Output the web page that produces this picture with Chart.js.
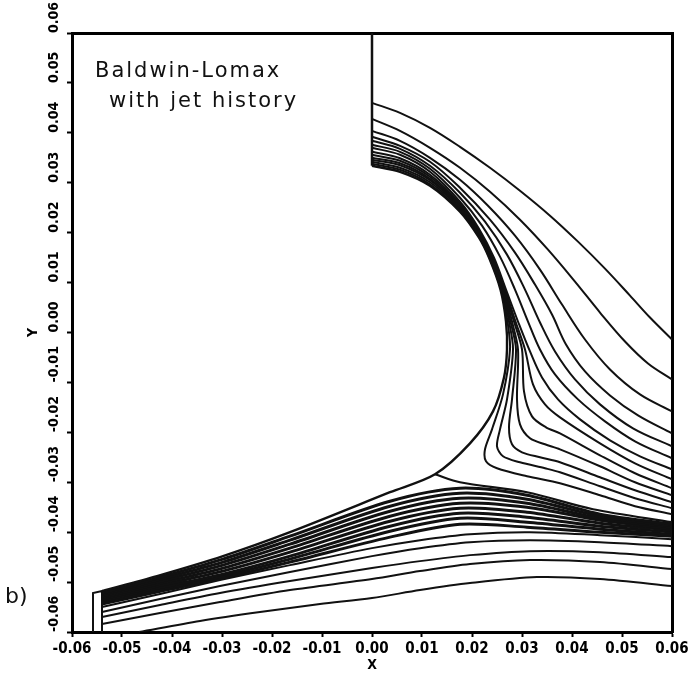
<!DOCTYPE html>
<html><head><meta charset="utf-8">
<script src="https://cdn.jsdelivr.net/npm/chart.js@4.4.1/dist/chart.umd.min.js"></script>
<style>html,body{margin:0;padding:0;background:#fff}canvas{display:block}</style>
</head><body>
<canvas id="c" width="695" height="679"></canvas>
<script>
// ---------- tick values / labels ----------
const xTickValues = [-0.06,-0.05,-0.04,-0.03,-0.02,-0.01,0,0.01,0.02,0.03,0.04,0.05,0.06];
const xTickLabels = ['-0.06','-0.05','-0.04','-0.03','-0.02','-0.01','0.00','0.01','0.02','0.03','0.04','0.05','0.06'];
const yTickValues = [-0.06,-0.05,-0.04,-0.03,-0.02,-0.01,0,0.01,0.02,0.03,0.04,0.05,0.06];
const yTickLabels = ['-0.06','-0.05','-0.04','-0.03','-0.02','-0.01','0.00','0.01','0.02','0.03','0.04','0.05','0.06'];
const xTitle = 'X';
const yTitle = 'Y';
const noteTexts = ['Baldwin-Lomax', 'with jet history', 'b)'];
const noteX = [-0.0554, -0.0526, -0.0734];
const noteY = [0.0512, 0.0452, -0.0542];

// ---------- walls ----------
const jetWall = [[0,0.06],[0,0.0334]];
const lowerLip = [[-0.0558,-0.06],[-0.0558,-0.0522],[-0.054,-0.0518],[-0.054,-0.06]];

// ---------- upper jet streamlines [x, y] ----------
const U1 = [[0,.046],[.0056,.044],[.0116,.041],[.0176,.0372],[.0236,.033],[.0296,.0284],[.0356,.0234],[.0412,.0182],[.0466,.0128],[.0516,.0074],[.0556,.003],[.06,-.0014]];
const U2 = [[0,.0428],[.0056,.0404],[.0116,.037],[.0176,.033],[.0236,.0282],[.0296,.0226],[.0352,.0166],[.0406,.0102],[.0456,.004],[.0506,-.0018],[.0552,-.0062],[.06,-.0094]];
const U3 = [[0,.0404],[.0056,.0384],[.0116,.035],[.0176,.0306],[.0232,.0254],[.0286,.0194],[.0336,.0126],[.038,.0056],[.0426,-.0014],[.0476,-.0074],[.0536,-.0124],[.06,-.0158]];
const U4 = [[0,.0392],[.0056,.0374],[.0116,.0342],[.0176,.029],[.0236,.0226],[.0286,.016],[.0326,.0096],[.036,.0036],[.0388,-.0024],[.0426,-.0078],[.0476,-.0126],[.0532,-.0166],[.06,-.0202]];
const U5 = [[0,.0384],[.0056,.0368],[.0116,.0334],[.0176,.028],[.0226,.0222],[.027,.0156],[.0306,.0086],[.0336,.002],[.0366,-.0038],[.0406,-.0094],[.0456,-.0144],[.0522,-.0192],[.06,-.0228]];
const U6 = [[0,.0376],[.0056,.0362],[.0116,.0328],[.0176,.027],[.022,.0214],[.0256,.0152],[.0286,.0086],[.0312,.0022],[.0336,-.0034],[.0366,-.0084],[.0412,-.0134],[.0466,-.0178],[.0526,-.0218],[.06,-.0252]];
const U7 = [[0,.037],[.0056,.0356],[.0116,.0322],[.0176,.0262],[.0214,.0208],[.0244,.015],[.0268,.0086],[.0292,.0022],[.0316,-.0038],[.034,-.009],[.0372,-.0134],[.0416,-.0174],[.0476,-.0216],[.0536,-.0248],[.06,-.0274]];
const U8 = [[0,.0362],[.0056,.0349],[.0116,.0316],[.0176,.0258],[.0214,.0204],[.0242,.015],[.0266,.0086],[.0287,.0022],[.0306,-.0034],[.0322,-.0104],[.0346,-.0144],[.0376,-.017],[.0456,-.0222],[.0526,-.0262],[.06,-.0294]];
const U9 = [[0,.0356],[.0056,.0344],[.0116,.0312],[.0176,.0255],[.0214,.0202],[.0241,.015],[.0264,.0086],[.0284,.0022],[.03,-.0034],[.0304,-.0118],[.032,-.0168],[.0348,-.019],[.0376,-.0202],[.0456,-.0246],[.0526,-.0282],[.06,-.0312]];
const U10 = [[0,.035],[.0056,.0339],[.0116,.0308],[.0176,.0252],[.0214,.0199],[.0239,.015],[.0263,.0086],[.028,.0022],[.0292,-.0034],[.029,-.0134],[.0296,-.0184],[.0316,-.0212],[.0346,-.0224],[.0376,-.0234],[.0456,-.0268],[.0526,-.03],[.06,-.0326]];
const U11 = [[0,.0346],[.0056,.0335],[.0116,.0305],[.0176,.025],[.0214,.0197],[.0238,.015],[.0261,.0086],[.0277,.0022],[.0288,-.0034],[.028,-.0134],[.0274,-.019],[.028,-.0224],[.03,-.024],[.0336,-.025],[.0376,-.026],[.0456,-.029],[.0526,-.0316],[.06,-.034]];
const U12 = [[0,.0342],[.0056,.033],[.0116,.0301],[.0176,.0247],[.0214,.0194],[.0237,.015],[.026,.0086],[.0274,.0022],[.0282,-.0034],[.027,-.0134],[.0256,-.0194],[.025,-.0228],[.0262,-.0248],[.0296,-.026],[.0346,-.0272],[.0376,-.028],[.0456,-.0308],[.0526,-.0332],[.06,-.0352]];
const U13 = [[0,.0338],[.0056,.0326],[.0116,.0297],[.0176,.0244],[.0214,.0192],[.0235,.015],[.0258,.0086],[.0271,.0022],[.0276,-.0034],[.0262,-.0124],[.024,-.0194],[.0226,-.0234],[.0228,-.0258],[.025,-.0272],[.031,-.0288],[.0376,-.0302],[.0456,-.0326],[.0526,-.0348],[.06,-.0364]];

// ---------- dividing streamline ----------
const dividing = [[0,.0334],[.0056,.0322],[.0116,.0294],[.0176,.0242],[.0214,.019],[.0234,.015],[.0257,.0086],[.0268,.0022],[.027,-.0034],[.0264,-.009],[.0242,-.0158],[.0196,-.0222],[.0126,-.0284],[.0036,-.032],[-.0164,-.04],[-.0298,-.0448],[-.043,-.0488],[-.054,-.0518]];
const dividingRight = [[.0126,-.0284],[.0176,-.03],[.031,-.032],[.0442,-.0354],[.06,-.038]];

// ---------- lower jet streamlines ----------
const bandX = [-.054,-.043,-.0298,-.0164,.0036,.0176,.031,.0456,.06];
const L1 = [-.0522,-.0492,-.0454,-.0408,-.0338,-.0312,-.0326,-.0364,-.0384];
const L2 = [-.0525,-.0496,-.046,-.0416,-.0348,-.0322,-.0334,-.0368,-.0387];
const L3 = [-.0528,-.05,-.0466,-.0424,-.0358,-.0332,-.0342,-.0372,-.039];
const L4 = [-.0531,-.0504,-.0472,-.0432,-.0368,-.0342,-.035,-.0376,-.0393];
const L5 = [-.0534,-.0508,-.0478,-.044,-.0378,-.0352,-.036,-.0382,-.0396];
const L6 = [-.0537,-.0512,-.0484,-.0448,-.0388,-.0362,-.037,-.0388,-.04];
const L7 = [-.054,-.0516,-.0488,-.0454,-.0398,-.0372,-.038,-.0394,-.0404];
const L8 = [-.0544,-.052,-.0492,-.046,-.041,-.0384,-.039,-.04,-.0408];
const outerX = [-.054,-.0424,-.0304,-.0164,0,.0096,.0196,.0316,.0456,.06];
const L9  = [-.055,-.0524,-.0496,-.0466,-.0432,-.0416,-.0404,-.04,-.0406,-.0414];
const L10 = [-.056,-.0534,-.0508,-.048,-.0448,-.0432,-.042,-.0416,-.042,-.0428];
const L11 = [-.057,-.0546,-.0522,-.0498,-.0472,-.0458,-.0446,-.0438,-.044,-.045];
const L12 = [-.0584,-.0562,-.054,-.0516,-.0494,-.0478,-.0464,-.0456,-.046,-.0474];
const L13X = [-.0466,-.0344,-.0224,-.0104,0,.0096,.0196,.033,.0456,.06];
const L13 = [-.06,-.0578,-.056,-.0544,-.0532,-.0516,-.0502,-.049,-.0494,-.0508];

// ---------- build datasets ----------
const pts = a => a.map(p => ({x: p[0], y: p[1]}));
const zip = (xs, ys) => xs.map((x, i) => ({x: x, y: ys[i]}));
function line(data, width, tension) {
  return {data: data, showLine: true, borderColor: '#111', borderWidth: width,
          pointRadius: 0, tension: tension, fill: false};
}
const datasets = [];
[U1,U2,U3,U4,U5,U6,U7].forEach(u => datasets.push(line(pts(u), 2, 0.35)));
[U8,U9,U10,U11,U12,U13].forEach(u => datasets.push(line(pts(u), 2, 0.3)));
datasets.push(line(pts(dividing), 2.4, 0.3));
datasets.push(line(pts(dividingRight), 2.2, 0.3));
[L1,L2,L3,L4,L5,L6,L7,L8].forEach(l => datasets.push(line(zip(bandX, l), 3, 0.3)));
[L9,L10,L11,L12].forEach(l => datasets.push(line(zip(outerX, l), 2, 0.3)));
datasets.push(line(zip(L13X, L13), 2, 0.3));
datasets.push(line(pts(jetWall), 2.5, 0));
datasets.push(line(pts(lowerLip), 2, 0));

const F = "'DejaVu Sans Condensed', 'Liberation Sans Narrow', 'DejaVu Sans', sans-serif";

const notes = {
  id: 'notes',
  afterDraw(chart) {
    const ctx = chart.ctx, sx = chart.scales.x, sy = chart.scales.y;
    ctx.save();
    ctx.fillStyle = '#111';
    ctx.textAlign = 'left';
    ctx.textBaseline = 'alphabetic';
    noteTexts.forEach((t, i) => {
      if (i < 2) { ctx.font = "21px 'DejaVu Sans', sans-serif"; if ('letterSpacing' in ctx) ctx.letterSpacing = '2px'; }
      else { ctx.font = "22px 'DejaVu Sans', sans-serif"; if ('letterSpacing' in ctx) ctx.letterSpacing = '0px'; }
      ctx.fillText(t, sx.getPixelForValue(noteX[i]), sy.getPixelForValue(noteY[i]));
    });
    ctx.restore();
  }
};

const gridOpts = {drawOnChartArea: false, drawTicks: true, tickLength: 5, tickWidth: 2, tickColor: '#000', color: '#000'};
const borderOpts = {display: true, color: '#000', width: 3};

new Chart(document.getElementById('c'), {
  type: 'scatter',
  data: {datasets: datasets},
  options: {
    responsive: false,
    animation: false,
    events: [],
    layout: {padding: {left: 19, right: 23, top: 33, bottom: 0}},
    plugins: {legend: {display: false}, tooltip: {enabled: false}},
    scales: {
      x: {
        type: 'linear', position: 'bottom', min: -0.06, max: 0.06,
        afterBuildTicks: s => { s.ticks = xTickValues.map(v => ({value: v})); },
        afterFit: s => { s.height = 47; },
        ticks: {autoSkip: false, maxRotation: 0, minRotation: 0, padding: 3, color: '#000',
                font: {family: F, weight: 'bold', size: 15}, callback: (v, i) => xTickLabels[i]},
        grid: gridOpts, border: borderOpts,
        title: {display: true, text: xTitle, color: '#000', font: {family: F, weight: 'bold', size: 14}, padding: {top: 0, bottom: 5}}
      },
      y: {
        type: 'linear', position: 'left', min: -0.06, max: 0.06, weight: 0,
        afterBuildTicks: s => { s.ticks = yTickValues.map(v => ({value: v})); },
        afterFit: s => { s.width = 25; },
        ticks: {autoSkip: false, minRotation: 90, maxRotation: 90, crossAlign: 'far', align: 'start', color: '#000',
                font: {family: F, weight: 'bold', size: 14}, callback: (v, i) => yTickLabels[i]},
        grid: gridOpts, border: borderOpts
      },
      yTitleAxis: {
        type: 'linear', position: 'left', weight: 10, min: 0, max: 1,
        afterFit: s => { s.width = 28; },
        ticks: {display: false}, grid: {display: false}, border: {display: false},
        title: {display: true, text: yTitle, color: '#000', font: {family: F, weight: 'bold', size: 14}, padding: {top: 6, bottom: 0}}
      },
      xTop: {
        type: 'linear', position: 'top', min: -0.06, max: 0.06,
        afterFit: s => { s.height = 0; },
        ticks: {display: false}, grid: {display: true, drawOnChartArea: false, drawTicks: false}, border: borderOpts
      },
      yRight: {
        type: 'linear', position: 'right', min: -0.06, max: 0.06,
        afterFit: s => { s.width = 0; },
        ticks: {display: false}, grid: {display: true, drawOnChartArea: false, drawTicks: false}, border: borderOpts
      }
    }
  },
  plugins: [notes]
});
</script>
</body></html>
